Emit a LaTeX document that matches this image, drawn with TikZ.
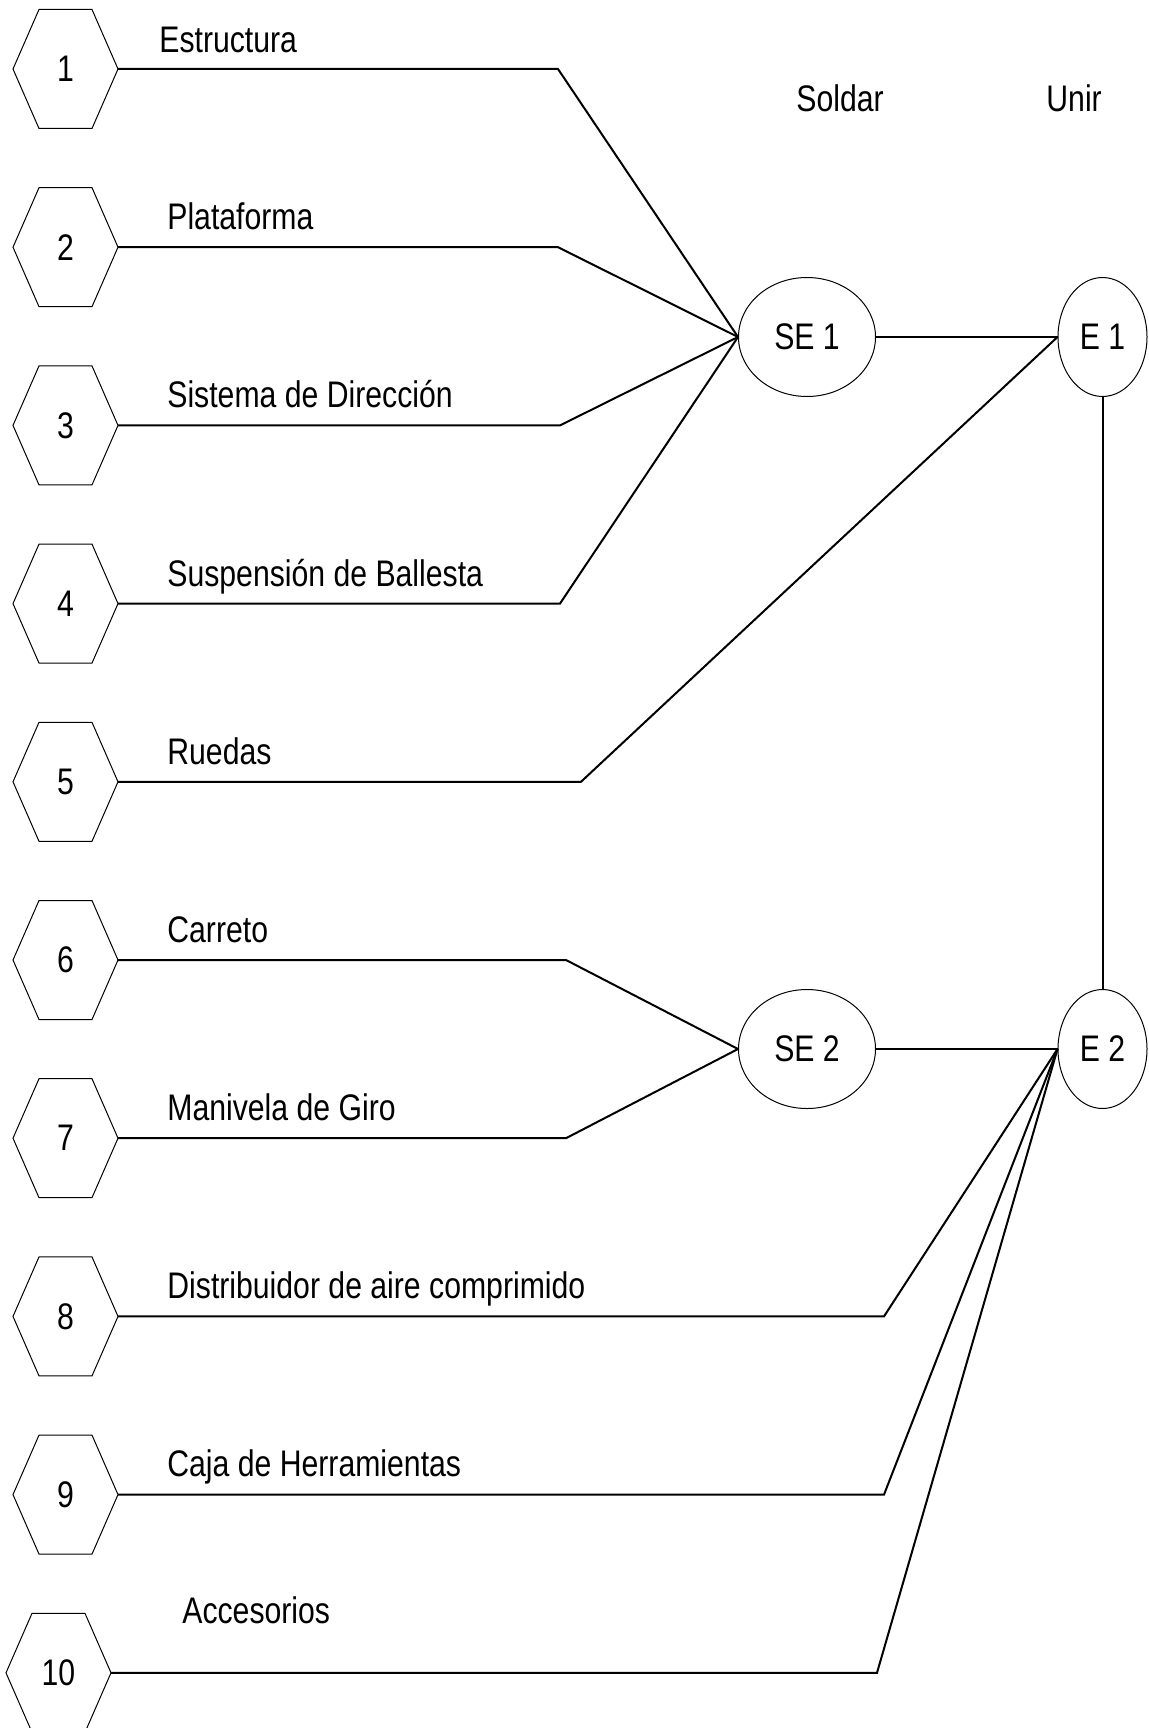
\documentclass[tikz,border=0pt]{standalone}
\usepackage{fontspec}
\setmainfont{Liberation Sans}
\usetikzlibrary{shapes.geometric,calc}
% tall lettering used throughout the chart
\newcommand{\tall}[1]{\scalebox{1}[1.225]{#1}}
\begin{document}
\begin{tikzpicture}[x=0.5pt,y=-0.5pt,
  every node/.style={font=\fontsize{15.1}{18}\selectfont},
  link/.style={line width=1pt, line join=miter},
  hexline/.style={line width=0.5pt},
  bubble/.style={draw, ellipse, line width=0.5pt, inner sep=0pt, minimum height=59.5pt},
  caption/.style={anchor=base west, inner sep=0pt},
  num/.style={inner sep=0pt}]
\useasboundingbox (0,0) rectangle (1148,1728);

% numbered parts (hexagons)
\foreach \i/\cx/\cy in {1/65.5/69, 2/65.5/247.2, 3/65.5/425.4, 4/65.5/603.6,
    5/65.5/781.8, 6/65.5/960, 7/65.5/1138.2, 8/65.5/1316.4, 9/65.5/1494.6,
    10/58.5/1672.8} {
  \node[num] (h\i) at (\cx,\cy) {\tall{\i}};
  \draw[hexline] ($(h\i.center)+(-52.5,0)$) -- ++(26,-59.5) -- ++(53,0)
      -- ++(26,59.5) -- ++(-26,59.5) -- ++(-53,0) -- cycle;
  \coordinate (hr\i) at ($(h\i.center)+(52.5,0)$);
}

% part names
\node[caption] (t1) at (159,53) {\tall{Estructura}};
\node[caption] (t2) at (167,229) {\tall{Plataforma}};
\node[caption] (t3) at (167,407) {\tall{Sistema de Dirección}};
\node[caption] (t4) at (167,586) {\tall{Suspensión de Ballesta}};
\node[caption] (t5) at (167,764) {\tall{Ruedas}};
\node[caption] (t6) at (167,942) {\tall{Carreto}};
\node[caption] (t7) at (167,1120) {\tall{Manivela de Giro}};
\node[caption] (t8) at (167,1298) {\tall{Distribuidor de aire comprimido}};
\node[caption] (t9) at (167,1476) {\tall{Caja de Herramientas}};
\node[caption] (t10) at (182,1623) {\tall{Accesorios}};

% column headings
\node[caption] (soldar) at (796,112) {\tall{Soldar}};
\node[caption] (unir) at (1046,112) {\tall{Unir}};

% sub-assemblies and assemblies
\node[bubble, minimum width=68.5pt] (se1) at (807,337) {\tall{SE 1}};
\node[bubble, minimum width=44.5pt] (e1) at (1102.5,337) {\tall{E 1}};
\node[bubble, minimum width=68.5pt] (se2) at (807,1049) {\tall{SE 2}};
\node[bubble, minimum width=44.5pt] (e2) at (1102.5,1049) {\tall{E 2}};

% bend points of the connectors
\coordinate (b1) at (558,69);
\coordinate (b2) at (558,247.2);
\coordinate (b3) at (560,425.4);
\coordinate (b4) at (560,603.6);
\coordinate (b5) at (581,781.8);
\coordinate (b6) at (566,960);
\coordinate (b7) at (566,1138.2);
\coordinate (b8) at (884,1316.4);
\coordinate (b9) at (884,1494.6);
\coordinate (b10) at (877,1672.8);

% connectors
\draw[link] (hr1) -- (b1) -- (se1.west);
\draw[link] (hr2) -- (b2) -- (se1.west);
\draw[link] (hr3) -- (b3) -- (se1.west);
\draw[link] (hr4) -- (b4) -- (se1.west);
\draw[link] (hr5) -- (b5) -- (e1.west);
\draw[link] (hr6) -- (b6) -- (se2.west);
\draw[link] (hr7) -- (b7) -- (se2.west);
\draw[link] (hr8) -- (b8) -- (e2.west);
\draw[link] (hr9) -- (b9) -- (e2.west);
\draw[link] (hr10) -- (b10) -- (e2.west);
\draw[link] (se1.east) -- (e1.west);
\draw[link] (se2.east) -- (e2.west);
\draw[link] (e1.south) -- (e2.north);
\end{tikzpicture}
\end{document}
